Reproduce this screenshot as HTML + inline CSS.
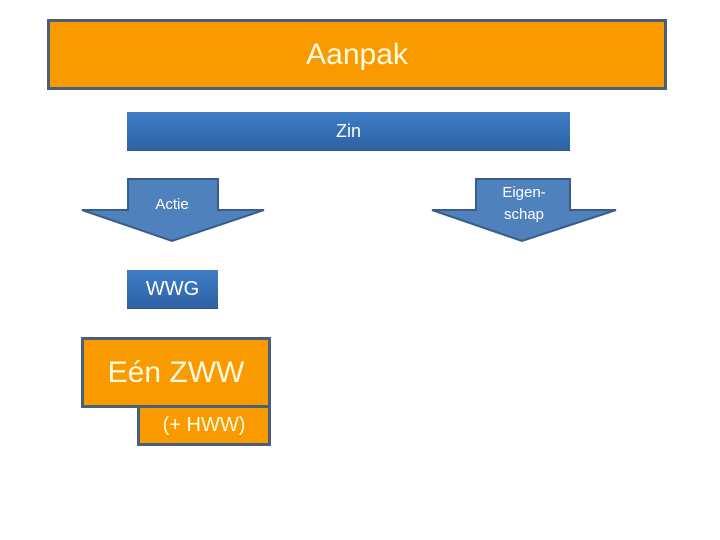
<!DOCTYPE html>
<html><head><meta charset="utf-8"><style>
body{margin:0;width:720px;height:540px;background:#fff;position:relative;overflow:hidden;font-family:"Liberation Sans",sans-serif}
.a{position:absolute;box-sizing:border-box;display:flex;align-items:center;justify-content:center;color:#fff}
.o{background:#f99a00;border:3px solid #4a5f78;color:#fffbe0}
.b{background:linear-gradient(#3e7ec8,#2e62a3);border-bottom:1px solid #2a558c}
</style></head><body>
<div class="a o" style="left:47px;top:19px;width:620px;height:71px;font-size:30px">Aanpak</div>
<div class="a b" style="left:127px;top:112px;width:443px;height:39px;font-size:18px">Zin</div>
<svg style="position:absolute;left:0;top:0" width="720" height="540">
<polygon points="128,179 218,179 218,210 264,210 172,241 82,210 128,210" fill="#4f81bd" stroke="#385d8a" stroke-width="2"/>
<polygon points="476,179 570,179 570,210 616,210 522,241 432,210 476,210" fill="#4f81bd" stroke="#385d8a" stroke-width="2"/>
<text x="172" y="209" fill="#fff" font-size="15" text-anchor="middle" font-family="Liberation Sans">Actie</text>
<text x="524" y="197" fill="#fff" font-size="15" text-anchor="middle" font-family="Liberation Sans">Eigen-</text>
<text x="524" y="219" fill="#fff" font-size="15" text-anchor="middle" font-family="Liberation Sans">schap</text>
</svg>
<div class="a b" style="left:127px;top:270px;width:91px;height:39px;font-size:20px">WWG</div>
<div class="a o" style="left:81px;top:337px;width:190px;height:71px;font-size:30px">Eén ZWW</div>
<div class="a o" style="left:137px;top:405px;width:134px;height:41px;font-size:20px">(+ HWW)</div>
</body></html>
